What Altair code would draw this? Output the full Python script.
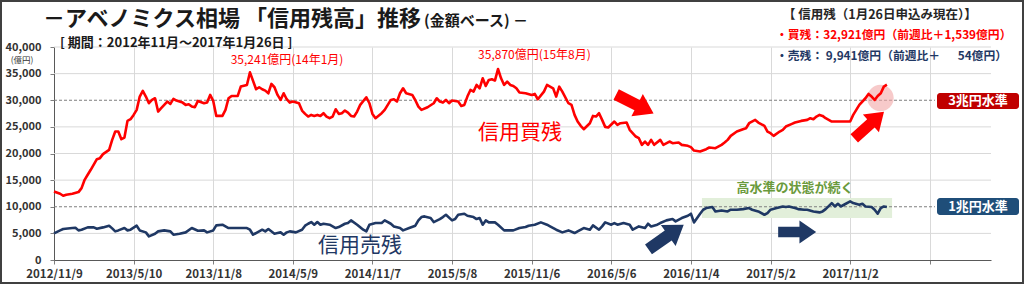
import altair as alt
import pandas as pd

FONT = "Noto Sans CJK JP"
RED = "#FF0000"
NAVY = "#1F3864"
GREEN_TXT = "#6A9A3C"

# ---- data (weekly, week index from 2012/11/9) ----
buy_weeks = [0, 2, 3, 4, 6, 8, 9, 10, 11, 12, 14, 15, 16, 18, 19, 20, 21, 22, 23, 24, 25, 26, 27, 28, 29, 30,
             31, 32, 33, 34, 35, 36, 37, 38, 39, 40, 42, 43, 44, 45, 46, 47, 49, 50, 51, 52, 53, 55, 56, 57, 58,
             60, 61, 63, 64, 66, 67, 68, 69, 70, 71, 72, 73, 74, 75, 76, 77, 78, 80, 81, 82, 83, 84, 85, 86, 87,
             88, 89, 90, 91, 92, 93, 94, 95, 96, 97, 98, 99, 100, 102, 103, 104, 105, 107, 108, 110, 111, 112,
             113, 114, 115, 117, 118, 119, 120, 122, 124, 125, 126, 127, 128, 129, 130, 132, 133, 134, 135, 136,
             137, 138, 139, 140, 141, 142, 143, 144, 145, 146, 147, 148, 149, 150, 151, 152, 154, 156, 157, 158,
             160, 161, 163, 164, 165, 166, 168, 169, 170, 171, 172, 173, 175, 176, 177, 178, 179, 180, 181, 183,
             184, 185, 187, 188, 190, 191, 192, 193, 194, 195, 196, 198, 199, 201, 202, 204, 205, 207, 208, 209,
             211, 213, 214, 216, 218, 219, 220, 221, 223, 225, 226, 227, 229, 230, 232, 233, 234, 235, 237, 238,
             239, 241, 242, 244, 246, 247, 248, 249, 250, 251, 252, 254, 255, 257, 260, 261, 262, 263, 265, 266,
             267, 268, 269, 270, 271, 272]
buy_values = [12875, 12440, 12060, 12250, 12440, 12750, 13500, 15060, 16000, 16940, 18940, 19125, 19875, 20690,
              22560, 24125, 24125, 22690, 23000, 26125, 26440, 27250, 28190, 30690, 31750, 30690, 29440, 30060,
              30375, 27875, 28500, 29125, 29750, 29310, 30250, 29940, 29560, 29125, 29250, 28810, 28690, 29875,
              29440, 29560, 31000, 29875, 27060, 27060, 28190, 30375, 30810, 30810, 32560, 32875, 35241, 32060,
              32440, 32060, 31810, 31310, 33060, 32440, 31000, 30060, 31310, 30190, 29560, 29750, 29440, 28060,
              27440, 26940, 27250, 27060, 27250, 27060, 27560, 26940, 26625, 26940, 28310, 27440, 27560, 28060,
              27690, 27060, 26940, 27875, 29125, 30560, 29440, 27440, 26625, 27560, 28190, 30060, 30190, 29750,
              31310, 32250, 31310, 31000, 30000, 28810, 28190, 28690, 29440, 30375, 29750, 29560, 30060, 29440,
              29940, 29750, 28940, 29125, 30690, 31940, 31625, 32875, 32250, 34125, 32690, 33810, 33940, 33690,
              35870, 34125, 32875, 33500, 32875, 32690, 32250, 31440, 31310, 31000, 31190, 30190, 31625, 32875,
              32250, 30690, 32560, 31625, 29440, 29125, 27250, 26000, 25190, 24560, 25690, 27060, 26940, 27560,
              26310, 25000, 24875, 26000, 25375, 25690, 25810, 24440, 23190, 22875, 21625, 22250, 21625, 22560,
              21625, 22560, 21625, 22250, 21940, 22060, 21625, 21440, 21190, 20560, 20375, 20810, 21125, 21000,
              21625, 22060, 22560, 23310, 24125, 24560, 24750, 25690, 26310, 25810, 25190, 24125, 23810, 23310,
              24125, 24440, 25060, 25560, 25810, 26125, 26310, 26625, 26440, 26940, 27250, 27060, 26625, 26000,
              26000, 26000, 26000, 27250, 28190, 29125, 30375, 31190, 30690, 30060, 30810, 31310, 32560, 32921]

sell_weeks = [0, 2, 3, 6, 7, 8, 9, 11, 13, 14, 16, 18, 19, 20, 21, 23, 24, 25, 27, 28, 30, 31, 33, 34, 36, 38,
              39, 41, 43, 45, 47, 49, 50, 52, 53, 55, 57, 59, 61, 63, 64, 65, 67, 68, 69, 70, 72, 73, 74, 75, 76,
              77, 79, 81, 82, 83, 84, 85, 86, 87, 88, 90, 92, 93, 95, 96, 97, 99, 101, 102, 103, 105, 107, 108,
              110, 111, 113, 114, 116, 118, 119, 120, 121, 123, 124, 126, 127, 128, 130, 131, 132, 134, 135, 137,
              138, 139, 140, 141, 142, 144, 145, 147, 148, 150, 152, 154, 155, 157, 159, 161, 162, 164, 166, 168,
              170, 171, 173, 175, 176, 178, 179, 180, 182, 183, 184, 186, 188, 189, 191, 193, 194, 195, 197, 198,
              200, 202, 203, 205, 207, 208, 209, 211, 212, 213, 215, 216, 218, 220, 221, 223, 225, 227, 228, 230,
              232, 233, 234, 236, 238, 239, 240, 242, 243, 245, 246, 248, 250, 251, 252, 254, 255, 256, 257, 258,
              260, 261, 263, 264, 265, 267, 268, 269, 270, 271, 272]
sell_values = [5000, 5560, 5810, 6000, 6060, 5560, 5690, 6125, 6125, 5875, 6125, 6440, 5940, 5375, 5560, 6000,
               5560, 5690, 6440, 5560, 5190, 4440, 4940, 5375, 5560, 5375, 4750, 4940, 5190, 6000, 5500, 5560,
               5190, 5560, 6500, 6625, 6000, 6000, 6000, 6000, 5690, 4750, 5375, 5690, 5375, 5810, 4940, 5060,
               5190, 4750, 5190, 5375, 5190, 5690, 6440, 6810, 7125, 6625, 7125, 6625, 6810, 6625, 6000, 6190,
               6810, 6940, 7440, 6625, 5690, 5375, 6625, 6940, 6940, 7440, 6810, 6310, 6000, 5560, 6000, 6440,
               7440, 8060, 8190, 7875, 7125, 7690, 8060, 8500, 7440, 7690, 8500, 8690, 8310, 8060, 7690, 7875,
               6625, 7440, 7060, 7060, 6625, 5560, 5560, 5560, 6000, 6190, 6440, 6625, 7060, 6625, 6310, 5690,
               5190, 5560, 5060, 5375, 6000, 5690, 6500, 5690, 6310, 7060, 6625, 6940, 6625, 6940, 6625, 5690,
               6310, 6000, 6810, 6310, 6625, 6940, 7440, 7690, 7250, 7875, 8310, 8690, 7060, 8690, 9440, 9750,
               9940, 9125, 9310, 9125, 9440, 9440, 9560, 9750, 9440, 9125, 8500, 8810, 9440, 9750, 10060, 9940,
               10060, 9750, 9560, 9440, 9440, 9125, 8940, 9125, 9560, 10690, 10060, 10560, 10060, 10375, 11000,
               10690, 10375, 10560, 10060, 9940, 9440, 8690, 9750, 10060, 9941]

tick_weeks = [0, 26, 52, 78, 104, 130, 156, 182, 208, 234, 260, 286]
tick_labels = ["2012/11/9", "2013/5/10", "2013/11/8", "2014/5/9", "2014/11/7", "2015/5/8",
               "2015/11/6", "2016/5/6", "2016/11/4", "2017/5/2", "2017/11/2", ""]
y_ticks = [0, 5000, 10000, 15000, 20000, 25000, 30000, 35000, 40000]
grid_levels = [5000, 15000, 20000, 25000, 35000, 40000]
dashed_levels = [10000, 30000]

# ---- layout ----
LEFT, TOP, W, H = 54, 47, 937, 213
xs = alt.Scale(domain=[0, 306], nice=False, zero=False)
ys = alt.Scale(domain=[0, 40000], nice=False, zero=False)

label_expr = "[" + ",".join("'%s'" % s for s in tick_labels) + "][round(datum.value/26)]"

x_axis = alt.Axis(values=tick_weeks, labelExpr=label_expr, grid=True, gridColor="#D9D9D9", gridWidth=1,
                  domainColor="#595959", tickColor="#7F7F7F", tickSize=4, labelFont=FONT, labelFontSize=11.5,
                  labelFontWeight="bold", labelColor="#333333", labelPadding=4, title=None, labelFlush=False,
                  labelOverlap=False)
y_axis = alt.Axis(values=y_ticks, labelExpr="format(datum.value, ',')", grid=False, domainColor="#595959",
                  tickColor="#7F7F7F", tickSize=4, labelFont=FONT, labelFontSize=11, labelFontWeight="bold",
                  labelColor="#333333", labelPadding=9, title=None, labelOverlap=False)


def X(field):
    return alt.X(field, scale=xs, axis=x_axis)


def Y(field):
    return alt.Y(field, scale=ys, axis=y_axis)


one = pd.DataFrame({"a": [0]})

frame = alt.Chart(one).mark_rect(fillOpacity=0, stroke="#404040", strokeWidth=2).encode(
    x=alt.value(-LEFT + 1), x2=alt.value(1024 - LEFT - 1), y=alt.value(-TOP + 1), y2=alt.value(284 - TOP - 1))

grid = alt.Chart(pd.DataFrame({"level": grid_levels})).mark_rule(color="#D9D9D9", strokeWidth=1).encode(
    y=Y("level:Q"), x=alt.value(0), x2=alt.value(W))

band = alt.Chart(pd.DataFrame({"w0": [211.6], "w1": [273.7], "v0": [7890], "v1": [11640]})).mark_rect(
    color="#E2EFDA").encode(x=X("w0:Q"), x2="w1:Q", y=Y("v0:Q"), y2="v1:Q")

dashed = alt.Chart(pd.DataFrame({"level": dashed_levels, "start": [0, 0], "end": [287.7, 287.7]})).mark_rule(
    color="#7F7F7F", strokeDash=[3, 2], strokeWidth=1).encode(y=Y("level:Q"), x=X("start:Q"), x2="end:Q")

circle = alt.Chart(pd.DataFrame({"w": [269.9], "v": [30420]})).mark_circle(
    color="#F2A7A7", opacity=0.6, size=700).encode(x=X("w:Q"), y=Y("v:Q"))

lines_df = pd.concat([
    pd.DataFrame({"week": buy_weeks, "value": buy_values, "series": "買残"}),
    pd.DataFrame({"week": sell_weeks, "value": sell_values, "series": "売残"}),
])
lines = alt.Chart(lines_df).mark_line(strokeWidth=2.6, strokeJoin="round").encode(
    x=X("week:Q"), y=Y("value:Q"),
    color=alt.Color("series:N", scale=alt.Scale(domain=["買残", "売残"], range=[RED, NAVY]), legend=None),
    detail="series:N",
)

ARROW = "M -1 -0.28 L 0.12 -0.28 L 0.12 -0.6 L 1 0 L 0.12 0.6 L 0.12 0.28 L -1 0.28 Z"
arrow_df = pd.DataFrame({
    "w": [189.7, 266.2, 199.9, 242.7],
    "v": [29300, 25350, 4320, 5260],
    "angle": [27, 318, 325, 0],
    "size": [1764, 1600, 1850, 1444],
    "color": [RED, RED, NAVY, NAVY],
})
arrows = alt.Chart(arrow_df).mark_point(shape=ARROW, filled=True, opacity=1, strokeWidth=0).encode(
    x=X("w:Q"), y=Y("v:Q"),
    angle=alt.Angle("angle:Q", scale=None), size=alt.Size("size:Q", scale=None),
    color=alt.Color("color:N", scale=None))


def dtext(txt, w, v, size, color, weight="bold"):
    return alt.Chart(pd.DataFrame({"t": [txt], "w": [w], "v": [v]})).mark_text(
        font=FONT, fontSize=size, fontWeight=weight, color=color, align="center", baseline="middle").encode(
        x=X("w:Q"), y=Y("v:Q"), text="t:N")


def ptext(txt, px, py, size, color, weight="bold", align="left"):
    return alt.Chart(pd.DataFrame({"t": [txt]})).mark_text(
        font=FONT, fontSize=size, fontWeight=weight, color=color, align=align, baseline="middle").encode(
        x=alt.value(px - LEFT), y=alt.value(py - TOP), text="t:N")


def pbox(x0, x1, y0, y1, color):
    return alt.Chart(one).mark_rect(color=color, cornerRadius=3).encode(
        x=alt.value(x0 - LEFT), x2=alt.value(x1 - LEFT), y=alt.value(y0 - TOP), y2=alt.value(y1 - TOP))


layers = [
    frame, grid, band, dashed, circle, lines, arrows,
    dtext("35,241億円(14年1月)", 76.1, 37560, 12, RED, "normal"),
    dtext("35,870億円(15年8月)", 156.9, 38500, 12, RED, "normal"),
    dtext("信用買残", 152.2, 23850, 21, RED, "normal"),
    dtext("信用売残", 99.9, 2630, 21, NAVY, "normal"),
    dtext("高水準の状態が続く", 242, 13520, 13, GREEN_TXT),
    pbox(937, 1019, 93, 109, "#C00000"),
    pbox(937, 1019, 198, 215, "#1F4E79"),
    ptext("3兆円水準", 978, 101, 13, "white", align="center"),
    ptext("1兆円水準", 978, 206.5, 13, "white", align="center"),
    ptext("－アベノミクス相場", 43, 19, 22, "#1A1A1A"),
    ptext("「信用残高」推移", 245, 19, 22, "#1A1A1A"),
    ptext("(金額ベース) －", 424, 21, 15, "#1A1A1A"),
    ptext("[ 期間：2012年11月～2017年1月26日 ]", 60, 43, 13, "#1A1A1A"),
    ptext("(億円)", 22, 60, 8.5, "#333333", weight="normal", align="center"),
    ptext("【 信用残（1月26日申込み現在）】", 783, 15, 12.5, "#262626"),
    ptext("・買残：32,921億円（前週比＋1,539億円）", 776, 35, 11.8, RED),
    ptext("・売残： 9,941億円（前週比＋", 776, 56, 11.8, NAVY),
    ptext("54億円）", 1007, 56, 11.8, NAVY, align="right"),
]

chart = alt.layer(*layers).properties(
    width=W, height=H,
    autosize=alt.AutoSizeParams(type="none"),
    padding={"left": LEFT, "top": TOP, "right": 1024 - LEFT - W, "bottom": 284 - TOP - H},
    background="white",
).configure_view(stroke=None)

chart.save("out.html", embed_options={"renderer": "svg", "actions": False})
